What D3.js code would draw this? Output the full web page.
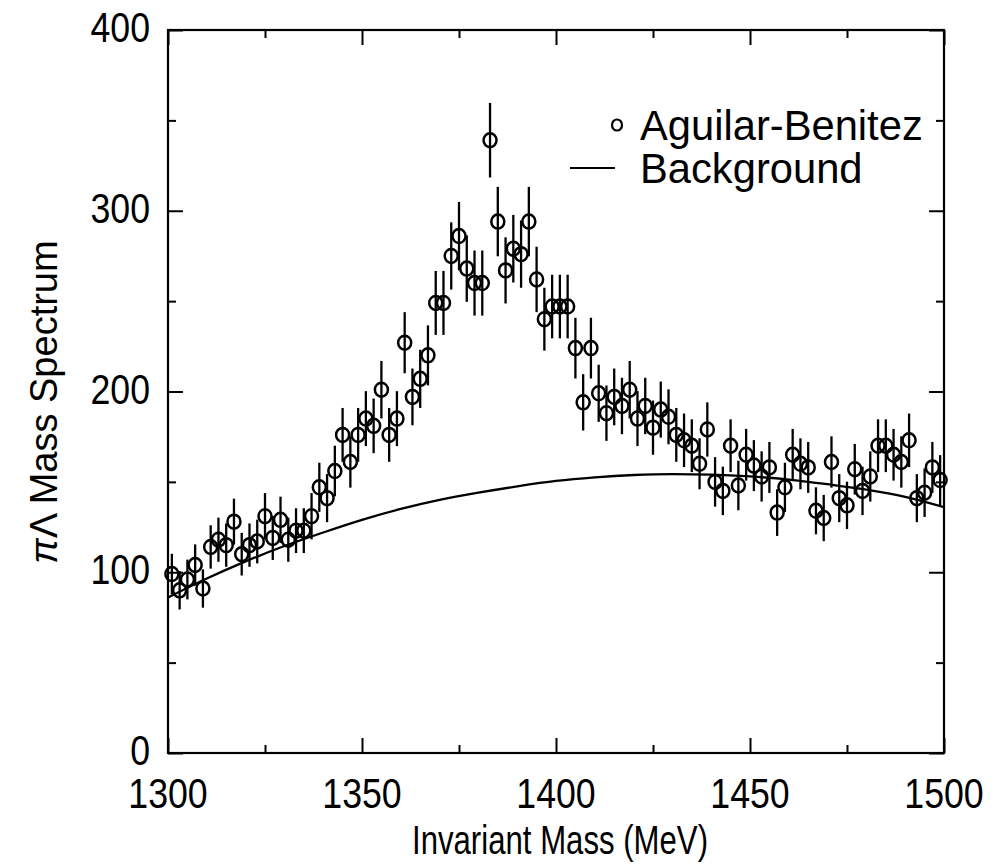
<!DOCTYPE html>
<html>
<head>
<meta charset="utf-8">
<script src="https://cdn.jsdelivr.net/npm/d3@7"></script>
<style>
  body { margin: 0; background: #fff; }
  svg { display: block; }
  text { font-family: "Liberation Sans", Arial, Helvetica, sans-serif; fill: #000; }
</style>
</head>
<body>
<svg id="chart" width="994" height="865"></svg>
<script>
// ---- data ----
const massValues = [1301,1303,1305,1307,1309,1311,1313,1315,1317,1319,1321,1323,1325,1327,1329,1331,1333,1335,1337,1339,
  1341,1343,1345,1347,1349,1351,1353,1355,1357,1359,1361,1363,1365,1367,1369,1371,1373,1375,1377,1379,
  1381,1383,1385,1387,1389,1391,1393,1395,1397,1399,1401,1403,1405,1407,1409,1411,1413,1415,1417,1419,
  1421,1423,1425,1427,1429,1431,1433,1435,1437,1439,1441,1443,1445,1447,1449,1451,1453,1455,1457,1459,
  1461,1463,1465,1467,1469,1471,1473,1475,1477,1479,1481,1483,1485,1487,1489,1491,1493,1495,1497,1499];
const spectrumValues = [99,90,96,104,91,114,118,115,128,110,115,117,131,119,129,118,123,123,131,147,
  141,156,176,161,176,185,181,201,176,185,227,197,207,220,249,249,275,286,268,260,
  260,339,294,267,279,276,294,262,240,247,247,247,224,194,224,199,188,197,192,201,
  185,192,180,190,186,176,173,170,160,179,150,145,170,148,165,159,153,158,133,147,
  165,160,158,134,130,161,141,137,157,145,153,170,170,165,161,173,141,144,158,151];
const spectrumErrors = [11.2,10.6,11,11.4,10.6,12,12.2,12,12.7,11.8,12,12.1,12.8,12.2,12.8,12.2,12.4,12.4,12.8,13.6,
  13.3,14,14.9,14.2,14.9,15.2,15.1,15.9,14.9,15.2,16.9,15.7,16.1,16.6,17.7,17.7,18.6,18.9,18.4,18,
  18,20.6,19.2,18.3,18.7,18.6,19.2,18.1,17.4,17.6,17.6,17.6,16.8,15.6,16.8,15.8,15.3,15.7,15.6,15.9,
  15.2,15.6,15,15.5,15.2,14.9,14.8,14.6,14.1,15,13.7,13.4,14.6,13.7,14.3,14.1,13.9,14.1,12.9,13.6,
  14.3,14.1,14.1,13,12.8,14.2,13.3,13.1,14,13.4,13.9,14.6,14.6,14.3,14.2,14.8,13.3,13.4,14.1,13.8];
const backgroundMass = [1300,1310,1320,1330,1340,1350,1360,1370,1380,1390,1400,1410,1420,1430,1440,1450,1460,1470,1480,1490,1500];
const backgroundValues = [86,96.5,106,114.5,122,129,135,140,144,147.5,150.5,152.5,153.8,154.3,154,153,151.3,148.7,145.7,141.7,136];
const xMajorTicks = [1300,1350,1400,1450,1500];
const xMinorTicks = [1325,1375,1425,1475];
const yMajorTicks = [0,100,200,300,400];
const yMinorTicks = [50,150,250,350];
const legendLabels = ["Aguilar-Benitez","Background"];
const xTitle = "Invariant Mass (MeV)";
const yTitleSymbol = "π";
const yTitleRest = "Λ Mass Spectrum";

// ---- layout ----
const L = 168, R = 944, T = 30, B = 753;
const svg = d3.select("#chart");
const x = d3.scaleLinear().domain([1300,1500]).range([L,R]);
const y = d3.scaleLinear().domain([0,400]).range([B,T]);

const MAJ = 15, MIN = 8;
function tickAxis(axisFn, scale, ticks, size, tx, ty) {
  const g = svg.append("g").attr("transform", `translate(${tx},${ty})`)
    .call(axisFn(scale).tickValues(ticks).tickSize(-size).tickFormat(""));
  g.select(".domain").remove();
  g.selectAll(".tick line").attr("stroke","#000").attr("stroke-width",2);
  return g;
}
tickAxis(d3.axisBottom, x, xMajorTicks, MAJ, 0, B);
tickAxis(d3.axisBottom, x, xMinorTicks, MIN, 0, B);
tickAxis(d3.axisTop, x, xMajorTicks, MAJ, 0, T);
tickAxis(d3.axisTop, x, xMinorTicks, MIN, 0, T);
tickAxis(d3.axisLeft, y, yMajorTicks, MAJ, L, 0);
tickAxis(d3.axisLeft, y, yMinorTicks, MIN, L, 0);
tickAxis(d3.axisRight, y, yMajorTicks, MAJ, R, 0);
tickAxis(d3.axisRight, y, yMinorTicks, MIN, R, 0);

// frame
svg.append("rect").attr("x",L).attr("y",T).attr("width",R-L).attr("height",B-T)
  .attr("fill","none").attr("stroke","#000").attr("stroke-width",2.2);

// tick labels
const SX = 0.85;
svg.append("g").selectAll("text").data(xMajorTicks).join("text")
  .attr("transform", d => `translate(${x(d)},${B+55}) scale(${SX},1)`)
  .attr("text-anchor","middle").attr("font-size",42).text(d => d);
svg.append("g").selectAll("text").data(yMajorTicks).join("text")
  .attr("transform", d => `translate(${L-18},${y(d)+12}) scale(${SX},1)`)
  .attr("text-anchor","end").attr("font-size",42).text(d => d);

// titles
svg.append("text").attr("transform", `translate(${560},${854}) scale(0.76,1)`)
  .attr("text-anchor","middle").attr("font-size",41).text(xTitle);
const yt = svg.append("text").attr("transform", `translate(${57},${402}) rotate(-90)`)
  .attr("text-anchor","middle").attr("font-size",38);
yt.append("tspan").attr("font-style","italic").text(yTitleSymbol);
yt.append("tspan").text(yTitleRest);

// background curve
const line = d3.line().x((d,i) => x(backgroundMass[i])).y(d => y(d)).curve(d3.curveMonotoneX);
svg.append("path").datum(backgroundValues).attr("d", line)
  .attr("fill","none").attr("stroke","#000").attr("stroke-width",2.3);

// data points
const pts = svg.append("g");
pts.selectAll("line").data(spectrumValues).join("line")
  .attr("x1",(d,i)=>x(massValues[i])).attr("x2",(d,i)=>x(massValues[i]))
  .attr("y1",(d,i)=>y(Math.min(400,d+spectrumErrors[i]))).attr("y2",(d,i)=>y(d-spectrumErrors[i]))
  .attr("stroke","#000").attr("stroke-width",2.3);
pts.selectAll("ellipse").data(spectrumValues).join("ellipse")
  .attr("cx",(d,i)=>x(massValues[i])).attr("cy",d=>y(d)).attr("rx",6.5).attr("ry",7)
  .attr("fill","none").attr("stroke","#000").attr("stroke-width",2.5);

// legend
const lg = svg.append("g");
lg.append("ellipse").attr("cx",617).attr("cy",125).attr("rx",5).attr("ry",5.5).attr("fill","none").attr("stroke","#000").attr("stroke-width",2.2);
lg.append("line").attr("x1",570).attr("x2",615).attr("y1",168).attr("y2",168).attr("stroke","#000").attr("stroke-width",2);
lg.append("text").attr("transform","translate(640,140) scale(0.97,1)").attr("font-size",43).text(legendLabels[0]);
lg.append("text").attr("transform","translate(640,183) scale(0.97,1)").attr("font-size",43).text(legendLabels[1]);
</script>
</body>
</html>
